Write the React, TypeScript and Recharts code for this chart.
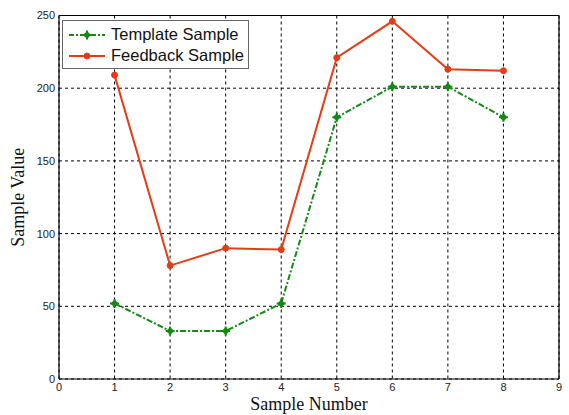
import React from 'react';
import { LineChart, Line, XAxis, YAxis, CartesianGrid, ReferenceLine, Label } from 'recharts';

const sampleNumbers = [1, 2, 3, 4, 5, 6, 7, 8];
const templateValues = [52, 33, 33, 52, 180, 201, 201, 180];
const feedbackValues = [209, 78, 90, 89, 221, 246, 213, 212];
const xTicks = [0, 1, 2, 3, 4, 5, 6, 7, 8, 9];
const yTicks = [0, 50, 100, 150, 200, 250];
const seriesNames = ['Template Sample', 'Feedback Sample'];

const data = sampleNumbers.map((n, i) => ({ n, template: templateValues[i], feedback: feedbackValues[i] }));

const GREEN = '#138a13';
const RED = '#e63c16';

const PlusMarker = (props: any) => {
  const { cx, cy } = props;
  if (cx == null || cy == null) return null;
  return (
    <g>
      <path d={`M${cx - 4},${cy} L${cx},${cy - 4} L${cx + 4},${cy} L${cx},${cy + 4} Z`} fill={GREEN} />
      <path d={`M${cx - 4.5},${cy} L${cx + 4.5},${cy} M${cx},${cy - 4.5} L${cx},${cy + 4.5}`} stroke={GREEN} strokeWidth={2} />
    </g>
  );
};

const DotMarker = (props: any) => {
  const { cx, cy } = props;
  if (cx == null || cy == null) return null;
  return <circle cx={cx} cy={cy} r={3} fill={RED} stroke={RED} />;
};

const LegendBox = () => (
  <div
    style={{
      position: 'absolute',
      left: 62,
      top: 20,
      width: 185,
      height: 47,
      border: '1.5px solid #666',
      background: '#fff',
      fontFamily: 'Arial, "Liberation Sans", sans-serif',
      fontSize: 16.5,
      color: '#111',
      boxSizing: 'content-box',
    }}
  >
    <div style={{ display: 'flex', alignItems: 'center', height: 21, marginTop: 3 }}>
      <svg width={44} height={12} style={{ marginLeft: 4 }}>
        <line x1={2} y1={6} x2={38} y2={6} stroke={GREEN} strokeWidth={2} strokeDasharray="5 2 2 2" />
        <PlusMarker cx={20} cy={6} />
      </svg>
      <span>{seriesNames[0]}</span>
    </div>
    <div style={{ display: 'flex', alignItems: 'center', height: 21 }}>
      <svg width={44} height={12} style={{ marginLeft: 4 }}>
        <line x1={2} y1={6} x2={38} y2={6} stroke={RED} strokeWidth={2} />
        <DotMarker cx={20} cy={6} />
      </svg>
      <span>{seriesNames[1]}</span>
    </div>
  </div>
);

export default function App() {
  return (
    <div style={{ position: 'absolute', left: 0, top: 0, width: 569, height: 415, background: '#fff' }}>
      <LineChart width={569} height={415} data={data} margin={{ top: 15.5, right: 10, left: 0, bottom: 0 }}>
        <CartesianGrid stroke="#000" strokeDasharray="3 3" strokeWidth={1} />
        <XAxis
          dataKey="n"
          type="number"
          domain={[0, 9]}
          ticks={xTicks}
          interval={0}
          height={36}
          tickSize={0}
          tickMargin={4}
          axisLine={{ stroke: '#000', strokeWidth: 1.2 }}
          tickLine={false}
          tick={{ fill: '#222', fontSize: 11, fontFamily: 'Arial, "Liberation Sans", sans-serif' }}
        >
          <Label
            content={(p: any) => {
              const vb = p.viewBox || {};
              return (
                <text x={vb.x + vb.width / 2} y={410} textAnchor="middle" fontFamily='"Times New Roman", "Liberation Serif", serif' fontSize={18} fill="#111">
                  Sample Number
                </text>
              );
            }}
          />
        </XAxis>
        <YAxis
          type="number"
          domain={[0, 250]}
          ticks={yTicks}
          interval={0}
          width={59}
          tickSize={0}
          tickMargin={4}
          axisLine={{ stroke: '#000', strokeWidth: 1.2 }}
          tickLine={false}
          tick={{ fill: '#222', fontSize: 11, fontFamily: 'Arial, "Liberation Sans", sans-serif' }}
        >
          <Label
            content={(p: any) => {
              const vb = p.viewBox || {};
              const cy = vb.y + vb.height / 2;
              return (
                <text x={24} y={cy} transform={`rotate(-90 24 ${cy})`} textAnchor="middle" fontFamily='"Times New Roman", "Liberation Serif", serif' fontSize={18} fill="#111">
                  Sample Value
                </text>
              );
            }}
          />
        </YAxis>
        <ReferenceLine x={9} stroke="#000" strokeWidth={1.2} />
        <ReferenceLine y={250} stroke="#000" strokeWidth={1.2} />
        <Line
          type="linear"
          dataKey="template"
          name={seriesNames[0]}
          stroke={GREEN}
          strokeWidth={2}
          strokeDasharray="6 2 2 2"
          dot={<PlusMarker />}
          activeDot={false}
          isAnimationActive={false}
        />
        <Line
          type="linear"
          dataKey="feedback"
          name={seriesNames[1]}
          stroke={RED}
          strokeWidth={2}
          dot={<DotMarker />}
          activeDot={false}
          isAnimationActive={false}
        />
      </LineChart>
      <LegendBox />
    </div>
  );
}
